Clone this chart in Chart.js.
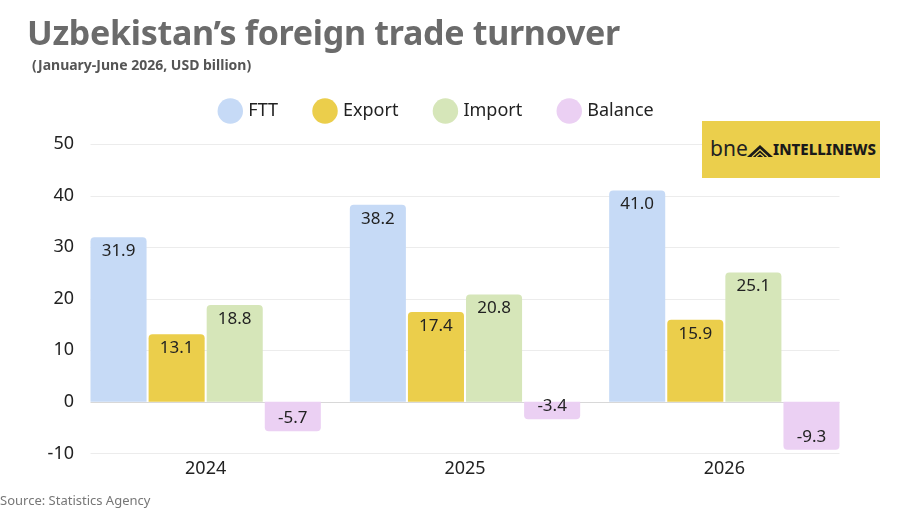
<!DOCTYPE html>
<html>
<head>
<meta charset="utf-8">
<script src="https://cdn.jsdelivr.net/npm/chart.js@4"></script>
<style>
  body { margin: 0; background: #fff; font-family: "Noto Sans", sans-serif; }
  #wrap { position: relative; width: 900px; height: 510px; overflow: hidden; }
  #title { position: absolute; left: 27px; top: 9px; font-size: 34px; font-weight: 700; color: #6b6b6b; letter-spacing: -0.3px; }
  #sub { position: absolute; left: 32px; top: 55px; font-size: 14px; font-weight: 700; color: #555; }
  #source { position: absolute; left: 0; top: 491px; font-size: 13px; color: #777; }
  #logo { position: absolute; left: 702px; top: 121px; width: 178px; height: 57px; background: #ebcf4c; }
  #logo .bne { position: absolute; left: 8px; top: 13px; font-size: 21px; color: #222; }
  #logo svg { position: absolute; left: 45px; top: 22px; }
  #logo .intel { position: absolute; left: 71px; top: 18px; font-size: 15px; font-weight: 800; color: #1a1a1a; }
  canvas { position: absolute; left: 0; top: 0; }
</style>
</head>
<body>
<div id="wrap">
  <canvas id="myChart" width="900" height="510"></canvas>
  <div id="title">Uzbekistan’s foreign trade turnover</div>
  <div id="sub">(January-June 2026, USD billion)</div>
  <div id="logo">
    <span class="bne">bne</span>
    <svg width="26" height="14" viewBox="0 0 26 14">
      <path d="M0 14 L13 2 L26 14 Z" fill="#1a1a1a"/>
      <path d="M5 14 L13 6.5 L21 14" fill="none" stroke="#ebcf4c" stroke-width="1.2"/>
      <path d="M9 14 L13 10.5 L17 14" fill="none" stroke="#ebcf4c" stroke-width="1.2"/>
    </svg>
    <span class="intel">INTELLINEWS</span>
  </div>
  <div id="source">Source: Statistics Agency</div>
</div>
<script>
const years = ['2024', '2025', '2026'];
const ftt = [31.9, 38.2, 41.0];
const exportVals = [13.1, 17.4, 15.9];
const importVals = [18.8, 20.8, 25.1];
const balance = [-5.7, -3.4, -9.3];

const colors = ['#c6daf6', '#ebce4b', '#d6e6b9', '#ebd0f3'];

// value labels inside the bars
const barLabels = {
  id: 'barLabels',
  afterDatasetsDraw(chart) {
    const ctx = chart.ctx;
    ctx.save();
    ctx.font = '17px "Noto Sans"';
    ctx.fillStyle = '#222';
    ctx.textAlign = 'center';
    ctx.textBaseline = 'middle';
    chart.data.datasets.forEach((ds, i) => {
      chart.getDatasetMeta(i).data.forEach((bar, j) => {
        const v = ds.data[j];
        const y = v >= 0 ? bar.y + 14 : bar.y - 13;
        ctx.fillText(v.toFixed(1), bar.x, y);
      });
    });
    ctx.restore();
  }
};

// grid lines only as wide as the bar groups
const gridLines = {
  id: 'gridLines',
  beforeDatasetsDraw(chart) {
    const ctx = chart.ctx;
    const y = chart.scales.y;
    const first = chart.getDatasetMeta(0).data[0];
    const last = chart.getDatasetMeta(3).data[2];
    const x0 = first.x - first.width / 2;
    const x1 = last.x + last.width / 2;
    ctx.save();
    ctx.lineWidth = 1;
    y.ticks.forEach(t => {
      const py = Math.round(y.getPixelForValue(t.value)) + 0.5;
      ctx.strokeStyle = t.value === 0 ? '#d8d8d8' : '#ececec';
      ctx.beginPath();
      ctx.moveTo(x0, py);
      ctx.lineTo(x1, py);
      ctx.stroke();
    });
    ctx.restore();
  }
};

// extra space under the legend
const legendGap = {
  id: 'legendGap',
  beforeInit(chart) {
    const fit = chart.legend.fit;
    chart.legend.fit = function () {
      fit.bind(chart.legend)();
      this.height += 14;
    };
  }
};

const mk = (label, data, c) => ({
  label: label,
  data: data,
  backgroundColor: c,
  borderColor: c,
  borderRadius: 4,
  borderSkipped: 'start',
  categoryPercentage: 0.896,
  barPercentage: 0.965
});

new Chart(document.getElementById('myChart'), {
  type: 'bar',
  data: {
    labels: years,
    datasets: [
      mk('FTT', ftt, colors[0]),
      mk('Export', exportVals, colors[1]),
      mk('Import', importVals, colors[2]),
      mk('Balance', balance, colors[3])
    ]
  },
  options: {
    responsive: false,
    animation: false,
    layout: { padding: { top: 64, left: 21, right: 46, bottom: 25 } },
    plugins: {
      legend: {
        position: 'top',
        labels: {
          usePointStyle: true,
          pointStyle: 'circle',
          boxWidth: 18,
          boxHeight: 18,
          padding: 38,
          color: '#222',
          font: { family: 'Noto Sans', size: 18 }
        }
      },
      tooltip: { enabled: false }
    },
    scales: {
      x: {
        grid: { display: false, drawTicks: false },
        border: { display: false },
        ticks: { color: '#222', font: { family: 'Noto Sans', size: 18 }, padding: 5 }
      },
      y: {
        min: -10,
        max: 50,
        grid: { display: false, drawTicks: false },
        border: { display: false },
        ticks: { stepSize: 10, color: '#222', font: { family: 'Noto Sans', size: 18 }, padding: 2 },
        afterFit(scale) { scale.width = 55; }
      }
    }
  },
  plugins: [legendGap, gridLines, barLabels]
});
</script>
</body>
</html>
